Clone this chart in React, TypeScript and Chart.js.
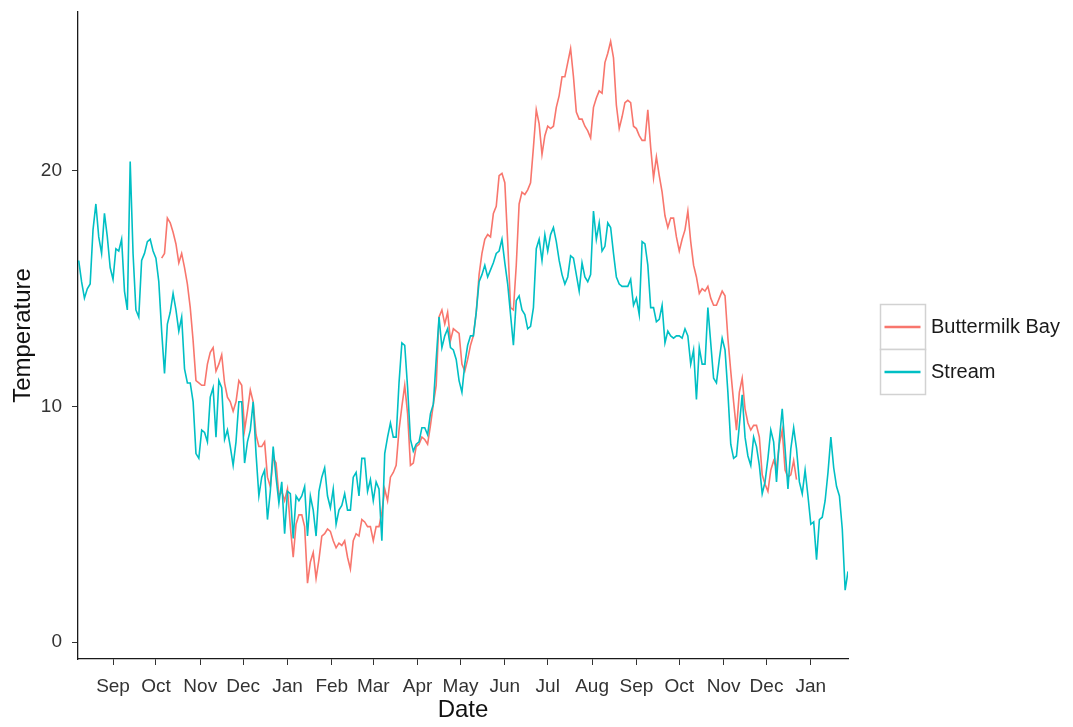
import { useEffect, useRef } from "react";
import { Chart, registerables } from "chart.js";

Chart.register(...registerables);

const DAY_MS = 86400000;

// Water temperature readings, one value every second day
const axisStart = "2015-08-08";
const axisEnd = "2017-01-27";
const streamStart = "2015-08-08";
const bayStart = "2015-10-05";
const readingStepDays = 2;

const seriesNames = ["Buttermilk Bay", "Stream"];
const seriesColors = ["#F8766D", "#00BFC4"];
const monthLabels = ["Jan", "Feb", "Mar", "Apr", "May", "Jun", "Jul", "Aug", "Sep", "Oct", "Nov", "Dec"];
const yTickValues = [0, 10, 20];

const streamTemps = [
  16.2, 15.3, 14.6, 15.0, 15.2, 17.5, 18.6, 17.2, 16.5, 18.2, 17.2, 15.9, 15.4, 16.7, 16.6, 17.1, 14.9, 14.1, 20.4, 16.5,
  14.1, 13.8, 16.2, 16.5, 17.0, 17.1, 16.6, 16.3, 15.3, 13.2, 11.4, 13.5, 14.0, 14.8, 14.1, 13.2, 13.8, 11.6, 11.0, 11.0,
  10.2,
  8.0, 7.8, 9.0, 8.9, 8.5, 10.4, 10.8, 8.7, 11.1, 10.8, 8.6, 9.0, 8.3, 7.5, 8.5, 10.2, 10.2, 7.6, 8.5, 9.0,
  10.2, 8.0, 6.2, 7.0, 7.3, 5.2, 6.4, 8.3, 7.0, 5.9, 6.8, 4.6, 6.4, 6.3, 4.4, 6.2, 6.0, 6.2, 6.6, 4.5,
  6.2, 5.6, 4.5, 6.4, 7.0, 7.4, 6.2, 5.7, 6.5,
  5.0, 5.6, 5.8, 6.3, 5.6, 5.6, 7.0, 7.2, 6.2, 7.8, 7.8, 6.4, 6.9, 6.0, 6.8, 6.5, 4.3, 8.0, 8.7, 9.3,
  8.7, 8.7, 11.0, 12.7, 12.6, 10.8, 8.6, 8.1, 8.4, 8.5, 9.1, 9.1, 8.8, 9.7, 10.1, 12.0, 13.8,
  12.5, 13.0, 13.3, 12.5, 12.4, 12.0, 11.1, 10.6, 11.8, 12.6, 13.0, 13.0, 14.0, 15.3, 15.6, 16.0, 15.5, 15.8, 16.1, 16.5,
  16.6, 17.1, 16.1, 15.2, 13.9, 12.6, 14.5, 14.7, 14.1, 13.9, 13.3, 13.4, 14.2, 16.7, 17.1, 16.2, 17.3, 16.6, 17.3, 17.6,
  17.0, 16.2, 15.6, 15.2, 15.5, 16.4, 16.3, 15.6, 14.9,
  16.1, 15.5, 15.3, 15.6, 18.3, 17.1, 17.8, 16.6, 16.8, 17.8, 17.6, 16.5, 15.5, 15.2, 15.1, 15.1, 15.1, 15.4, 14.3, 14.6,
  13.9, 17.0, 16.9, 16.0, 14.2, 14.2, 13.6, 13.7, 14.3, 12.7, 13.2, 13.0, 12.9, 13.0, 13.0, 12.9, 13.3, 13.0, 11.8, 12.4,
  10.3, 12.5, 11.8, 11.8, 14.2, 12.7, 11.2, 11.0, 12.0,
  12.9, 12.4, 10.6, 8.4, 7.8, 7.9, 9.2, 10.5, 8.7, 7.9, 7.5, 8.7, 8.3, 7.5, 6.3, 6.8, 7.8, 9.0, 8.5, 6.8,
  8.6, 9.9, 8.2, 6.5, 8.2, 9.1, 8.2, 6.8, 6.3, 7.3, 6.2, 5.0, 5.1, 3.5, 5.2, 5.3, 6.0, 7.2, 8.7, 7.4,
  6.6, 6.2, 4.8, 2.2, 3.0,
];

const bayTemps = [
  16.3, 16.5, 18.0, 17.8, 17.4, 16.9, 16.1, 16.5, 15.9, 15.2, 14.2, 12.8,
  11.1, 11.0, 10.9, 10.9, 11.8, 12.3, 12.5, 11.5, 11.8, 12.2, 11.0, 10.4, 10.2, 9.8, 10.2, 11.1, 10.9, 9.0, 9.8, 10.7,
  10.2, 8.8, 8.3, 8.3, 8.5, 7.0, 6.6, 7.8, 7.6, 6.2, 6.4, 6.0, 6.5, 4.9, 3.6, 5.0, 5.4, 5.4, 4.9, 2.5,
  3.4, 3.8, 2.7, 3.5, 4.5, 4.6, 4.8, 4.7, 4.3,
  4.0, 4.2, 4.1, 4.3, 3.6, 3.1, 4.3, 4.6, 4.5, 5.2, 5.1, 4.9, 4.9, 4.3, 4.9, 4.9, 5.5, 6.5, 6.0, 7.0,
  7.2, 7.5, 9.0, 10.0, 10.9, 9.7, 7.5, 7.6, 8.3, 8.4, 8.7, 8.6, 8.4, 9.2, 10.1, 10.9, 13.8,
  14.1, 13.5, 14.0, 12.8, 13.3, 13.2, 13.1, 11.8, 11.5, 12.0, 12.6, 13.0, 14.0, 15.6, 16.5, 17.1, 17.3, 17.2, 18.2, 18.5,
  19.8, 19.9, 19.5, 17.0, 14.2, 14.1, 16.0, 18.6, 19.1, 19.0, 19.2, 19.5, 21.0, 22.6, 22.0, 20.7, 21.5, 21.9, 21.8, 21.9,
  22.7, 23.2, 24.0, 24.0, 24.6, 25.2, 24.0, 22.5, 22.2,
  22.2, 21.9, 21.7, 21.4, 22.7, 23.1, 23.4, 23.3, 24.6, 25.0, 25.5, 24.8, 22.8, 21.8, 22.3, 22.9, 23.0, 22.9, 21.9, 21.8,
  21.5, 21.3, 21.3, 22.6, 21.0, 19.7, 20.6, 19.8, 19.1, 18.1, 17.6, 18.0, 18.0, 17.2, 16.6, 17.1, 17.5, 18.3, 17.0, 16.0,
  15.5, 14.8, 15.0, 14.9, 15.1, 14.6, 14.3, 14.3, 14.6,
  14.9, 14.7, 12.9, 11.5, 10.2, 9.0, 10.6, 11.2, 9.9, 9.3, 9.0, 9.2, 9.2, 8.7, 7.1, 6.7, 6.4, 7.3, 7.7, 7.4,
  8.4, 9.0, 7.3, 7.0, 7.1, 7.7, 6.9,
];

const FONT = "'Liberation Sans', Arial, Helvetica, sans-serif";
const axisStartMs = Date.parse(axisStart + "T00:00:00Z");

const toDay = (iso: string) => (Date.parse(iso + "T00:00:00Z") - axisStartMs) / DAY_MS;

function seriesPoints(start: string, temps: number[]) {
  const first = toDay(start);
  return temps.map((t, i) => ({ x: first + i * readingStepDays, y: t }));
}

// First day of every month that falls inside the axis range
function monthTicks() {
  const ticks: { value: number }[] = [];
  const s = new Date(axisStartMs);
  let y = s.getUTCFullYear();
  let m = s.getUTCMonth() + 1;
  const last = toDay(axisEnd);
  for (;;) {
    const d = (Date.UTC(y, m, 1) - axisStartMs) / DAY_MS;
    if (d > last) break;
    ticks.push({ value: d });
    m += 1;
    if (m > 11) {
      m = 0;
      y += 1;
    }
  }
  return ticks;
}

// Key boxes with line swatches to the right of the panel
const keyLegend = {
  id: "keyLegend",
  afterDraw(chart: Chart) {
    const { ctx } = chart;
    const boxLeft = 880.5;
    const boxTop = 304.5;
    const boxSize = 45;
    ctx.save();
    chart.data.datasets.forEach((ds, i) => {
      const top = boxTop + i * boxSize;
      ctx.fillStyle = "#ffffff";
      ctx.fillRect(boxLeft, top, boxSize, boxSize);
      ctx.strokeStyle = "#d2d2d2";
      ctx.lineWidth = 1.5;
      ctx.strokeRect(boxLeft, top, boxSize, boxSize);
      const cy = top + boxSize / 2;
      ctx.strokeStyle = ds.borderColor as string;
      ctx.lineWidth = 2.5;
      ctx.beginPath();
      ctx.moveTo(boxLeft + 4, cy);
      ctx.lineTo(boxLeft + boxSize - 5, cy);
      ctx.stroke();
      ctx.fillStyle = "#1a1a1a";
      ctx.font = `20px ${FONT}`;
      ctx.textAlign = "left";
      ctx.textBaseline = "middle";
      ctx.fillText(ds.label as string, boxLeft + boxSize + 5.5, cy + 0.5);
    });
    ctx.restore();
  },
};

export default function App() {
  const canvasRef = useRef<HTMLCanvasElement | null>(null);

  useEffect(() => {
    const canvas = canvasRef.current;
    if (!canvas) return;
    const chart = new Chart(canvas, {
      type: "line",
      data: {
        datasets: [
          {
            label: seriesNames[0],
            data: seriesPoints(bayStart, bayTemps),
            borderColor: seriesColors[0],
            borderWidth: 1.6,
            pointRadius: 0,
            fill: false,
            tension: 0,
            order: 2,
          },
          {
            label: seriesNames[1],
            data: seriesPoints(streamStart, streamTemps),
            borderColor: seriesColors[1],
            borderWidth: 1.6,
            pointRadius: 0,
            fill: false,
            tension: 0,
            order: 1,
          },
        ],
      },
      options: {
        animation: false,
        responsive: false,
        devicePixelRatio: 1,
        layout: { padding: { left: 0, right: 225, top: 12, bottom: 0 } },
        plugins: {
          legend: { display: false },
          tooltip: { enabled: false },
        },
        scales: {
          x: {
            type: "linear",
            min: -0.5,
            max: toDay(axisEnd),
            afterBuildTicks: (scale: any) => {
              scale.ticks = monthTicks();
            },
            afterFit: (scale: any) => {
              scale.height = 68;
              scale.paddingLeft = 0;
              scale.paddingRight = 0;
            },
            grid: {
              display: true,
              drawOnChartArea: false,
              drawTicks: true,
              tickLength: 6,
              color: "#333333",
              lineWidth: 1,
            },
            border: { display: true, color: "#1a1a1a", width: 1.3 },
            ticks: {
              autoSkip: false,
              maxRotation: 0,
              padding: 10,
              color: "#333333",
              font: { family: FONT, size: 19 },
              callback: (value: any) =>
                monthLabels[new Date(axisStartMs + Number(value) * DAY_MS).getUTCMonth()],
            },
            title: {
              display: true,
              text: "Date",
              color: "#111111",
              font: { family: FONT, size: 24 },
              padding: { top: 2, bottom: 2 },
            },
          },
          y: {
            type: "linear",
            min: -0.72,
            max: 26.75,
            afterBuildTicks: (scale: any) => {
              scale.ticks = yTickValues.map((v) => ({ value: v }));
            },
            afterFit: (scale: any) => {
              scale.width = 78;
              scale.paddingTop = 0;
              scale.paddingBottom = 0;
            },
            grid: {
              display: true,
              drawOnChartArea: false,
              drawTicks: true,
              tickLength: 6,
              color: "#333333",
              lineWidth: 1,
            },
            border: { display: true, color: "#1a1a1a", width: 1.3 },
            ticks: {
              padding: 10,
              color: "#333333",
              font: { family: FONT, size: 19 },
            },
            title: {
              display: true,
              text: "Temperature",
              color: "#111111",
              font: { family: FONT, size: 24 },
              padding: { top: 9, bottom: 0 },
            },
          },
        },
      },
      plugins: [keyLegend],
    });
    return () => chart.destroy();
  }, []);

  return (
    <div
      style={{
        position: "fixed",
        left: 0,
        top: 0,
        width: 1073,
        height: 727,
        background: "#ffffff",
      }}
    >
      <canvas ref={canvasRef} width={1073} height={727} style={{ width: 1073, height: 727 }} />
    </div>
  );
}
